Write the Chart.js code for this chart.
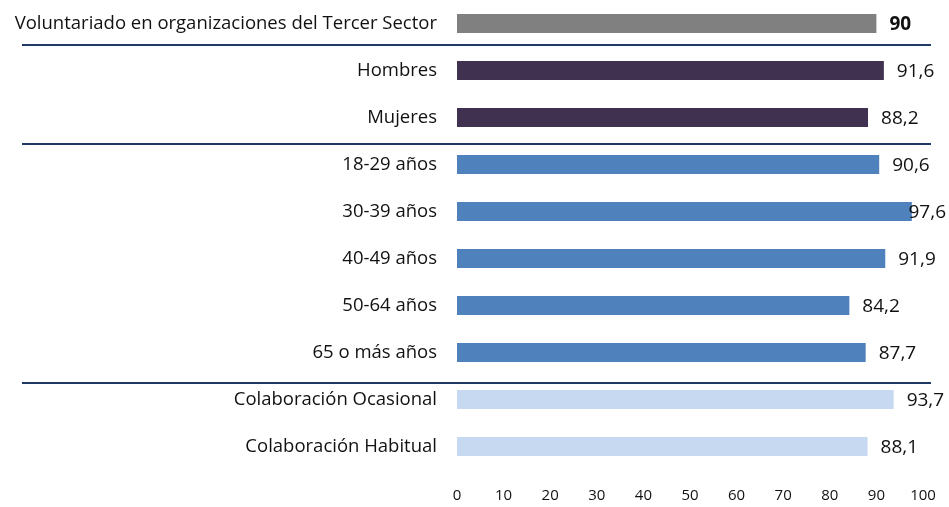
<!DOCTYPE html>
<html lang="es">
<head>
  <meta charset="UTF-8" />
  <title>Voluntariado en organizaciones del Tercer Sector</title>
  <script src="https://cdn.jsdelivr.net/npm/chart.js"></script>
  <style>
    html, body { margin: 0; padding: 0; background: #fff; }
    #wrap { width: 949px; height: 507px; }
  </style>
</head>
<body>
  <div id="wrap"><canvas id="grafico"></canvas></div>
  <script>
    // Categorías y valores (%)
    const categorias = [
      'Voluntariado en organizaciones del Tercer Sector',
      'Hombres',
      'Mujeres',
      '18-29 años',
      '30-39 años',
      '40-49 años',
      '50-64 años',
      '65 o más años',
      'Colaboración Ocasional',
      'Colaboración Habitual'
    ];
    const valores = [90, 91.6, 88.2, 90.6, 97.6, 91.9, 84.2, 87.7, 93.7, 88.1];
    const colores = ['#808080', '#403151', '#403151', '#4F81BD', '#4F81BD',
                     '#4F81BD', '#4F81BD', '#4F81BD', '#C6D9F1', '#C6D9F1'];
    const ticksX = [0, 10, 20, 30, 40, 50, 60, 70, 80, 90, 100];

    const fuente = "'Open Sans', sans-serif";

    // Líneas separadoras entre grupos (posición en unidades de categoría)
    const separadores = {
      id: 'separadores',
      afterDatasetsDraw(chart) {
        const { ctx } = chart;
        const y = chart.scales.y;
        ctx.save();
        ctx.strokeStyle = '#1F3864';
        ctx.lineWidth = 2;
        [0.46, 2.57, 7.64].forEach(v => {
          const py = Math.round(y.getPixelForValue(v));
          ctx.beginPath();
          ctx.moveTo(22, py);
          ctx.lineTo(931, py);
          ctx.stroke();
        });
        ctx.restore();
      }
    };

    // Etiquetas de valor al final de cada barra
    const etiquetas = {
      id: 'etiquetas',
      afterDatasetsDraw(chart) {
        const { ctx } = chart;
        const meta = chart.getDatasetMeta(0);
        ctx.save();
        ctx.fillStyle = '#111';
        ctx.textBaseline = 'middle';
        ctx.textAlign = 'left';
        meta.data.forEach((bar, i) => {
          const txt = valores[i].toString().replace('.', ',');
          ctx.font = (i === 0 ? 'bold ' : '') + '19px ' + fuente;
          const w = ctx.measureText(txt).width;
          let x = bar.x + 13;
          if (x + w > 946) x = 946 - w;
          ctx.fillText(txt, x, bar.y + 1);
        });
        ctx.restore();
      }
    };

    new Chart(document.getElementById('grafico'), {
      type: 'bar',
      data: {
        labels: categorias,
        datasets: [{
          data: valores,
          backgroundColor: colores,
          barPercentage: 0.8,
          categoryPercentage: 0.5
        }]
      },
      options: {
        indexAxis: 'y',
        responsive: true,
        maintainAspectRatio: false,
        animation: false,
        layout: { padding: { top: 0, right: 26, bottom: 0, left: 0 } },
        plugins: {
          legend: { display: false },
          tooltip: { enabled: false }
        },
        scales: {
          x: {
            min: 0,
            max: 100,
            afterBuildTicks: s => { s.ticks = ticksX.map(v => ({ value: v })); },
            afterFit: s => {
              s.height = 37;
              s.paddingTop = 0; s.paddingBottom = 0;
              s.paddingLeft = 0; s.paddingRight = 0;
            },
            grid: { display: false, drawTicks: false },
            border: { display: false },
            ticks: {
              padding: 17,
              color: '#111',
              font: { family: fuente, size: 15 }
            }
          },
          y: {
            afterFit: s => {
              s.width = 457;
              s.paddingTop = 0; s.paddingBottom = 0;
            },
            grid: { display: false, drawTicks: false },
            border: { display: false },
            ticks: {
              padding: 20,
              color: '#111',
              font: { family: fuente, size: 18.5 }
            }
          }
        }
      },
      plugins: [separadores, etiquetas]
    });
  </script>
</body>
</html>
